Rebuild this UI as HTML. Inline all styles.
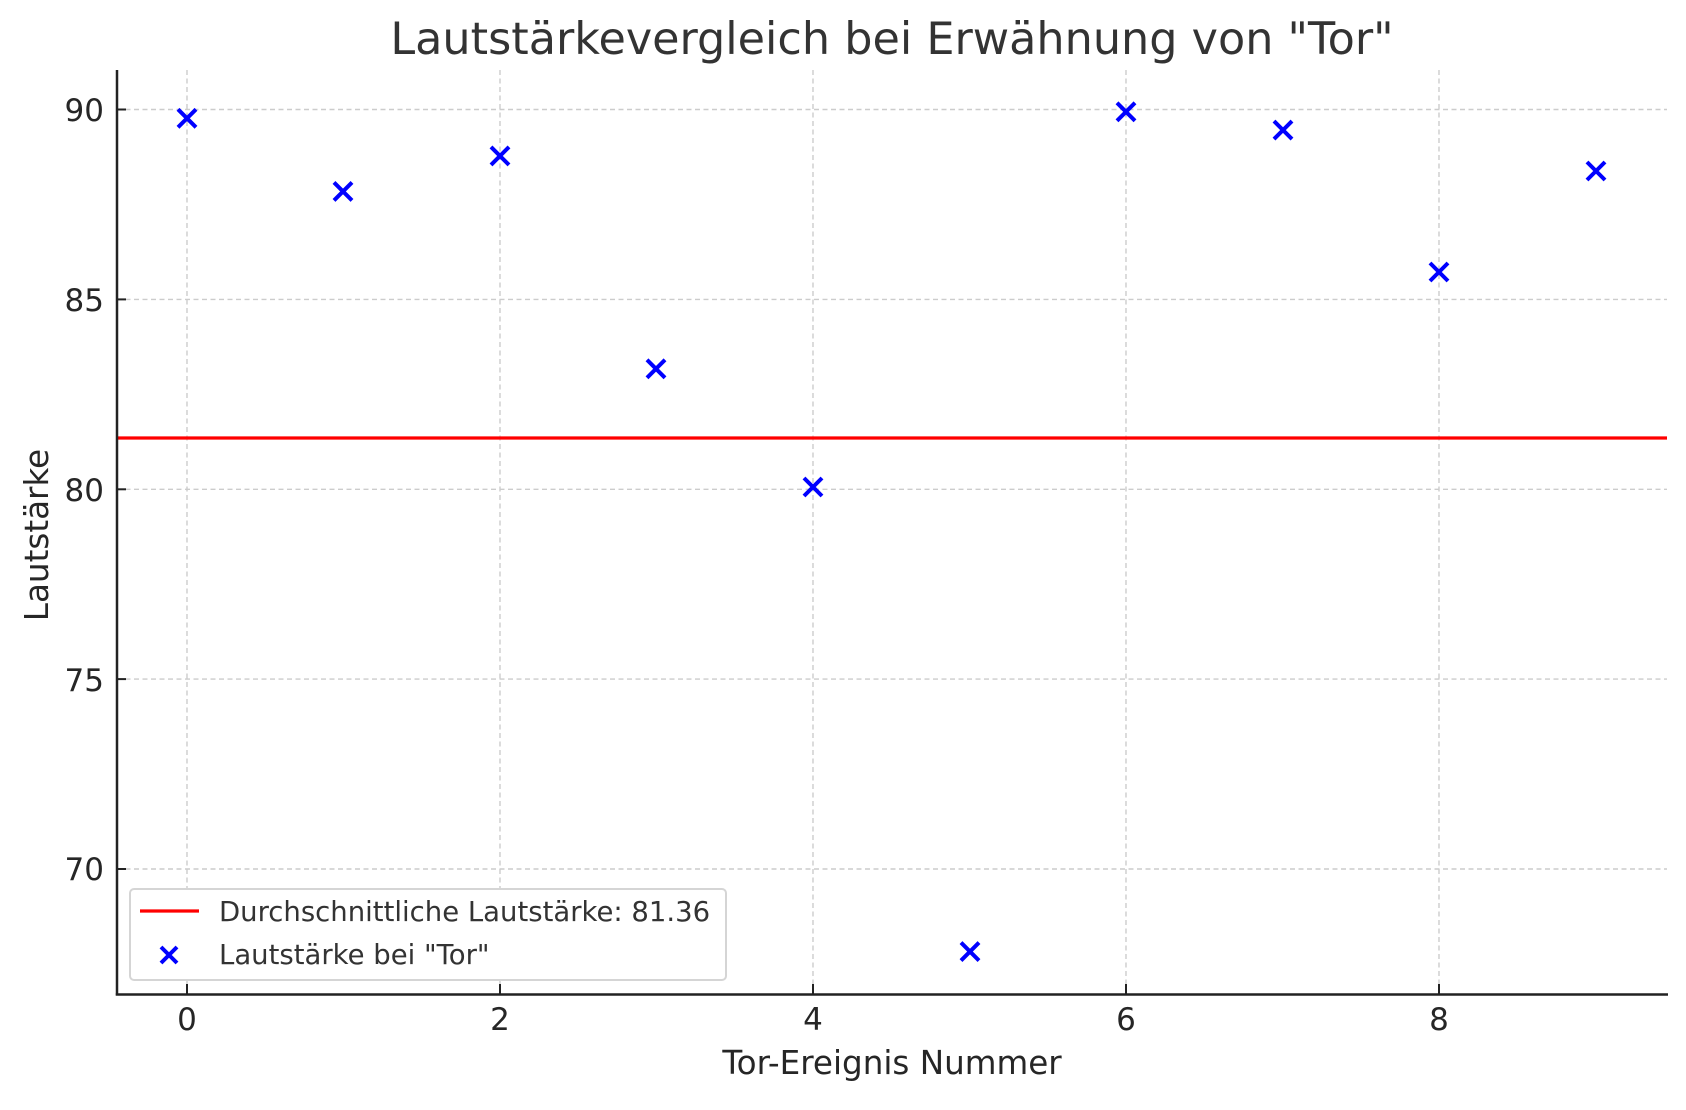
<!DOCTYPE html>
<html><head><meta charset="utf-8"><style>body{margin:0;background:#fff}svg{display:block}</style></head><body>
<svg width="1686" height="1110" xmlns="http://www.w3.org/2000/svg" font-family="DejaVu Sans, Liberation Sans, sans-serif">
<g stroke="#cccccc" stroke-width="1.4" stroke-dasharray="5,3.5">
<line x1="187" y1="70" x2="187" y2="994"/><line x1="500" y1="70" x2="500" y2="994"/><line x1="813" y1="70" x2="813" y2="994"/><line x1="1126" y1="70" x2="1126" y2="994"/><line x1="1439" y1="70" x2="1439" y2="994"/>
<line x1="117" y1="109.5" x2="1667" y2="109.5"/><line x1="117" y1="299.4" x2="1667" y2="299.4"/><line x1="117" y1="489.3" x2="1667" y2="489.3"/><line x1="117" y1="679.1" x2="1667" y2="679.1"/><line x1="117" y1="869" x2="1667" y2="869"/>
</g>
<line x1="117" y1="438" x2="1667" y2="438" stroke="#ff0000" stroke-width="3.2"/>
<g stroke="#0000ff" stroke-width="4" fill="none">
<path d="M178,109.3l18,18M196,109.3l-18,18"/>
<path d="M334,182.4l18,18M352,182.4l-18,18"/>
<path d="M491,146.9l18,18M509,146.9l-18,18"/>
<path d="M647,359.8l18,18M665,359.8l-18,18"/>
<path d="M804,478l18,18M822,478l-18,18"/>
<path d="M961,942.6l18,18M979,942.6l-18,18"/>
<path d="M1117,102.8l18,18M1135,102.8l-18,18"/>
<path d="M1274,121.1l18,18M1292,121.1l-18,18"/>
<path d="M1430,263l18,18M1448,263l-18,18"/>
<path d="M1587,162l18,18M1605,162l-18,18"/>
</g>
<g stroke="#222" stroke-width="2.5"><line x1="117" y1="70" x2="117" y2="995.5"/><line x1="115.8" y1="994.5" x2="1668" y2="994.5"/></g>
<g stroke="#222" stroke-width="2">
<line x1="117" y1="109.5" x2="126" y2="109.5"/><line x1="117" y1="299.4" x2="126" y2="299.4"/><line x1="117" y1="489.3" x2="126" y2="489.3"/><line x1="117" y1="679.1" x2="126" y2="679.1"/><line x1="117" y1="869" x2="126" y2="869"/>
<line x1="187" y1="994" x2="187" y2="984"/><line x1="500" y1="994" x2="500" y2="984"/><line x1="813" y1="994" x2="813" y2="984"/><line x1="1126" y1="994" x2="1126" y2="984"/><line x1="1439" y1="994" x2="1439" y2="984"/>
</g>
<g font-size="31" fill="#262626" text-anchor="end">
<text x="104" y="121">90</text><text x="104" y="311">85</text><text x="104" y="501">80</text><text x="104" y="691">75</text><text x="104" y="880">70</text>
</g>
<g font-size="31" fill="#262626" text-anchor="middle">
<text x="187" y="1030">0</text><text x="500" y="1030">2</text><text x="813" y="1030">4</text><text x="1126" y="1030">6</text><text x="1439" y="1030">8</text>
</g>
<text x="892" y="1074" font-size="32.6" fill="#262626" text-anchor="middle">Tor-Ereignis Nummer</text>
<text transform="translate(48,535) rotate(-90)" font-size="32.6" fill="#262626" text-anchor="middle">Lautstärke</text>
<text x="892" y="54" font-size="44.5" fill="#333" text-anchor="middle">Lautstärkevergleich bei Erwähnung von "Tor"</text>
<rect x="130" y="889" width="596" height="91" rx="4" fill="#fff" stroke="#d5d5d5" stroke-width="2"/>
<line x1="140" y1="911" x2="199" y2="911" stroke="#ff0000" stroke-width="3.2"/>
<path d="M161,947l16,16M177,947l-16,16" stroke="#0000ff" stroke-width="4"/>
<g font-size="27.5" fill="#333"><text x="219" y="921">Durchschnittliche Lautstärke: 81.36</text><text x="219" y="964">Lautstärke bei "Tor"</text></g>
</svg>
</body></html>
